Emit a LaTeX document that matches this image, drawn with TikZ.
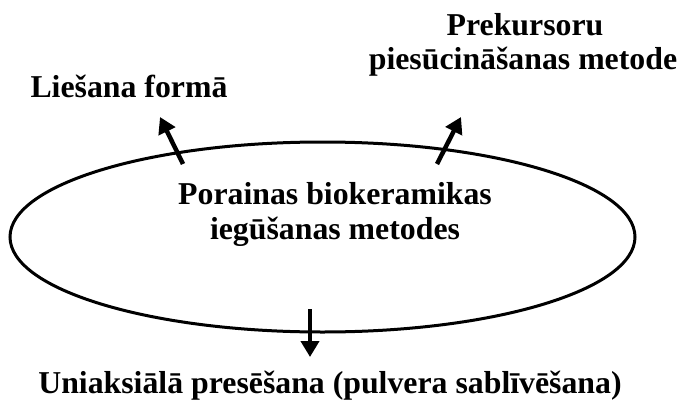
\documentclass[tikz,border=0pt]{standalone}
\usepackage{fontspec}
\setmainfont{Liberation Serif}
\usetikzlibrary{arrows.meta,shapes.geometric}
\tikzset{
  lbl/.style={anchor=base, inner sep=0pt, font=\fontsize{31.8}{35}\selectfont\bfseries},
  oval/.style={draw, ellipse, line width=3pt, inner sep=0pt},
  outarrow/.style={line width=4.5pt, -{Triangle[length=16pt,width=18pt]}}
}
\begin{document}
\begin{tikzpicture}[x=1pt,y=-1pt]
\useasboundingbox (0,0) rectangle (684,401);
\node[oval, minimum width=625pt, minimum height=190pt] (ell) at (322.5,237) {};
\node[lbl] (m1) at (335,204) {Porainas biokeramikas};
\node[lbl] (m2) at (335,239) {iegūšanas metodes};
\node[lbl] (lf) at (129,97) {Liešana formā};
\node[lbl] (pk1) at (525,36) {Prekursoru};
\node[lbl] (pk2) at (523,70) {piesūcināšanas metode};
\node[lbl] (up) at (330,393) {Uniaksiālā presēšana (pulvera sablīvēšana)};
\coordinate (a1s) at (183,164);
\coordinate (a1e) at (160,117);
\coordinate (a2s) at (437,164);
\coordinate (a2e) at (461,117);
\coordinate (a3s) at (310,309);
\coordinate (a3e) at (310,357);
\draw[outarrow] (a1s) -- (a1e);
\draw[outarrow] (a2s) -- (a2e);
\draw[outarrow] (a3s) -- (a3e);
\end{tikzpicture}
\end{document}
